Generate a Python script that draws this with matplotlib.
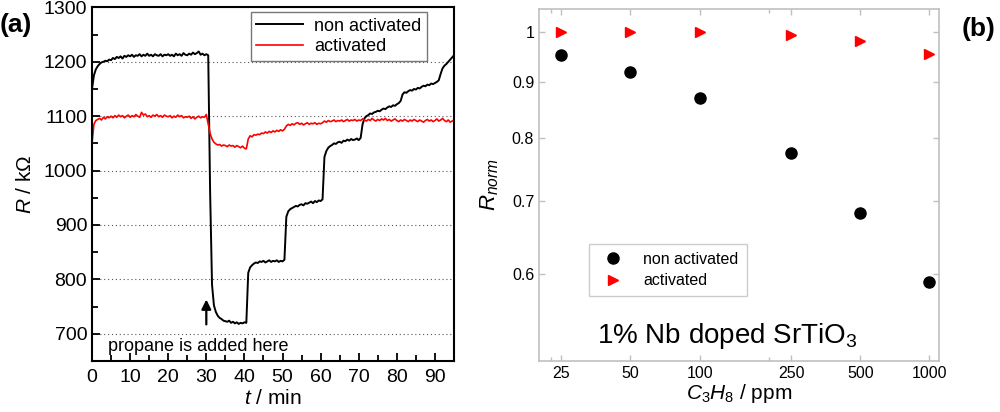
import numpy as np
import matplotlib
matplotlib.use('Agg')
import matplotlib.pyplot as plt
from matplotlib.ticker import FixedLocator, FixedFormatter, NullLocator

plt.rcParams['font.family'] = ['Liberation Sans', 'DejaVu Sans']
plt.rcParams['mathtext.fontset'] = 'custom'
plt.rcParams['mathtext.rm'] = 'Liberation Sans'
plt.rcParams['mathtext.it'] = 'Liberation Sans:italic'

# (a) resistance vs time, sampled every 0.5 min
t_min = np.arange(0, 95.01, 0.5)
r_non_activated = [
    1150, 1175, 1186, 1192, 1196, 1199, 1200, 1202, 1201, 1204,
    1203, 1207, 1205, 1209, 1207, 1210, 1206, 1211, 1209, 1212,
    1210, 1213, 1209, 1212, 1211, 1214, 1210, 1213, 1211, 1215,
    1211, 1213, 1210, 1214, 1212, 1211, 1214, 1210, 1213, 1212,
    1214, 1211, 1213, 1210, 1215, 1212, 1214, 1211, 1216, 1213,
    1212, 1215, 1213, 1217, 1214, 1216, 1219, 1213, 1215, 1212,
    1214, 1212, 960, 790, 752, 740, 733, 729, 727, 724,
    723, 722, 724, 720, 722, 719, 721, 718, 720, 719,
    721, 720, 812, 822, 826, 829, 831, 830, 833, 832,
    834, 831, 833, 835, 832, 834, 833, 835, 832, 834,
    833, 836, 915, 925, 929, 931, 933, 935, 934, 937,
    938, 936, 940, 939, 941, 943, 940, 944, 942, 945,
    944, 947, 1025, 1036, 1042, 1045, 1047, 1050, 1049, 1052,
    1053, 1051, 1055, 1054, 1057, 1055, 1058, 1056, 1057, 1059,
    1056, 1060, 1085, 1096, 1100, 1102, 1105, 1104, 1107, 1108,
    1110, 1109, 1112, 1114, 1113, 1116, 1118, 1117, 1120, 1119,
    1122, 1124, 1128, 1140, 1144, 1143, 1146, 1148, 1147, 1150,
    1149, 1152, 1151, 1154, 1156, 1155, 1158, 1157, 1160, 1159,
    1161, 1163, 1166, 1178, 1188, 1193, 1196, 1200, 1204, 1208,
    1212,
]
r_activated = [
    1050, 1085, 1092, 1094, 1096, 1093, 1098, 1095, 1099, 1097,
    1100, 1097, 1101, 1098, 1102, 1099, 1101, 1097, 1100, 1102,
    1098, 1101, 1099, 1103, 1100, 1098, 1107, 1102, 1104, 1099,
    1101, 1098, 1102, 1100, 1103, 1099, 1101, 1098, 1102, 1100,
    1099, 1101, 1097, 1100, 1098, 1102, 1099, 1101, 1097, 1099,
    1098, 1100, 1096, 1099, 1095, 1098, 1100, 1097, 1099, 1098,
    1103, 1085, 1068, 1058, 1052, 1049, 1047, 1048, 1045, 1047,
    1046, 1044, 1047, 1045, 1046, 1043, 1046, 1044, 1042, 1045,
    1041, 1040, 1058, 1064, 1062, 1066, 1065, 1067, 1066, 1069,
    1068, 1071, 1069, 1072, 1070, 1073, 1071, 1074, 1072, 1075,
    1073, 1076, 1082, 1085, 1083, 1086, 1084, 1087, 1088, 1085,
    1087, 1084, 1086, 1088, 1085, 1087, 1086, 1088, 1085, 1087,
    1086, 1088, 1091, 1089, 1092, 1090, 1091, 1093, 1090, 1092,
    1091, 1093, 1090, 1092, 1094, 1091, 1093, 1092, 1094, 1091,
    1093, 1092, 1095, 1093, 1091, 1094, 1092, 1096, 1093, 1091,
    1094, 1092, 1095, 1093, 1096, 1092, 1094, 1091, 1093, 1095,
    1092, 1090, 1093, 1091, 1094, 1092, 1090, 1093, 1091, 1094,
    1092, 1090, 1093, 1091, 1089, 1092, 1094, 1091, 1093, 1090,
    1092, 1095, 1091, 1093, 1096, 1092, 1090, 1093, 1089, 1091,
    1093,
]

# (b) normalised resistance vs propane concentration
ppm = [25, 50, 100, 250, 500, 1000]
rnorm_non_activated = [0.953, 0.919, 0.870, 0.775, 0.683, 0.591]
rnorm_activated = [1.0, 1.0, 1.0, 0.994, 0.981, 0.955]
ppm_ticks = ['25', '50', '100', '250', '500', '1000']
rnorm_ticks = [0.6, 0.7, 0.8, 0.9, 1.0]
rnorm_labels = ['0.6', '0.7', '0.8', '0.9', '1']

fig = plt.figure(figsize=(10, 4.12), dpi=100)

# ---------- panel (a) ----------
ax1 = fig.add_axes([0.092, 0.124, 0.362, 0.858])
ax1.plot(t_min, r_non_activated, color='black', lw=1.4, label='non activated')
ax1.plot(t_min, r_activated, color='red', lw=1.2, label='activated')
ax1.set_xlim(0, 95)
ax1.set_ylim(650, 1300)
ax1.set_xticks(np.arange(0, 91, 10))
ax1.set_xticks(np.arange(5, 95, 10), minor=True)
ax1.set_yticks(np.arange(700, 1301, 100))
ax1.set_yticks(np.arange(650, 1300, 100), minor=True)
ax1.tick_params(which='both', direction='in', labelsize=14, width=1.3)
ax1.tick_params(which='major', length=6)
ax1.tick_params(which='minor', length=4)
ax1.tick_params(axis='x', pad=6)
for s in ax1.spines.values():
    s.set_linewidth(1.5)
ax1.grid(axis='y', which='major', ls=(0, (1, 2.5)), color='#555555', lw=0.8)
ax1.set_xlabel('$t$ / min', fontsize=15, labelpad=2)
ax1.set_ylabel('$R$ / k\u03a9', fontsize=15, labelpad=6)
leg1 = ax1.legend(loc='upper right', bbox_to_anchor=(0.925, 0.986), fontsize=13,
                  frameon=True, fancybox=False, edgecolor='#555555',
                  handlelength=2.6, borderaxespad=0.0, borderpad=0.3,
                  labelspacing=0.2, handletextpad=0.6)
leg1.get_frame().set_linewidth(1.0)
ax1.annotate('', xy=(30, 768), xytext=(30, 712),
             arrowprops=dict(arrowstyle='-|>', color='black', lw=1.6,
                             mutation_scale=14))
ax1.text(4.3, 676, 'propane is added here', fontsize=13, va='center', ha='left')

# ---------- panel (b) ----------
ax2 = fig.add_axes([0.539, 0.124, 0.400, 0.854])
ax2.plot(ppm, rnorm_non_activated, 'o', color='black', ms=8, label='non activated')
ax2.plot(ppm, rnorm_activated, '>', color='red', ms=7, label='activated')
ax2.set_xscale('log')
ax2.set_yscale('log')
ax2.set_xlim(20, 1100)
ax2.set_ylim(0.5, 1.05)
ax2.xaxis.set_major_locator(FixedLocator(ppm))
ax2.xaxis.set_major_formatter(FixedFormatter(ppm_ticks))
ax2.xaxis.set_minor_locator(FixedLocator([22.6, 200]))
ax2.yaxis.set_major_locator(FixedLocator(rnorm_ticks))
ax2.yaxis.set_major_formatter(FixedFormatter(rnorm_labels))
ax2.yaxis.set_minor_locator(NullLocator())
ax2.xaxis.set_minor_formatter(FixedFormatter(['', '']))
ax2.tick_params(which='both', direction='in', top=True, right=True,
                labelsize=11.5, color='#c0c0c0', width=1.0)
ax2.tick_params(which='major', length=4)
ax2.tick_params(which='minor', length=3)
for s in ax2.spines.values():
    s.set_color('#c0c0c0')
    s.set_linewidth(1.2)
ax2.set_xlabel('$C_{\\mathit{3}}H_{\\mathit{8}}$ / ppm', fontsize=15, labelpad=1)
ax2.set_ylabel('$R_{norm}$', fontsize=16, labelpad=8)
leg2 = ax2.legend(loc='upper left', bbox_to_anchor=(0.105, 0.355), fontsize=11.5,
                  frameon=True, fancybox=False, edgecolor='#c0c0c0',
                  handletextpad=0.9, borderpad=0.5, labelspacing=0.4)
leg2.get_frame().set_linewidth(1.0)
ax2.text(0.47, 0.07, '1% Nb doped SrTiO$_3$', transform=ax2.transAxes,
         fontsize=20, ha='center', va='center')

fig.text(0.0, 0.94, '(a)', fontsize=19, fontweight='bold', ha='left', va='center')
fig.text(0.962, 0.93, '(b)', fontsize=19, fontweight='bold', ha='left', va='center')

fig.savefig('out.png', dpi=100)
